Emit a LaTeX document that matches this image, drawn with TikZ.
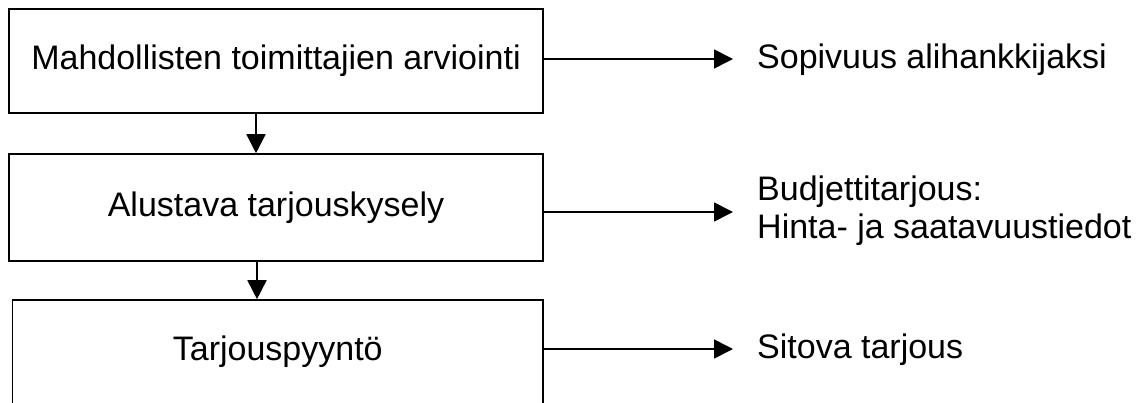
\documentclass[tikz,border=0pt]{standalone}
\usepackage{fontspec}
\setmainfont{Liberation Sans}
\usetikzlibrary{arrows.meta}

\begin{document}
\begin{tikzpicture}[x=1pt, y=-1pt,
  box/.style={draw, line width=1.6pt, minimum width=534pt, minimum height=104pt,
    inner sep=0pt, font=\fontsize{34}{38}\selectfont},
  lbl/.style={anchor=west, inner sep=0pt, inner xsep=24pt, align=left,
    font=\fontsize{34}{38}\selectfont},
  arr/.style={line width=1.6pt, -{Triangle[length=19pt, width=19pt]}}]

  \useasboundingbox (0,0) rectangle (1146,403);

  % Three stages, one under the other
  \node[box] (b1) at (276,61) {Mahdollisten toimittajien arviointi};
  \node[box, minimum height=107pt] (b2) at (276,207.5) {Alustava tarjouskysely};
  \node[box, minimum width=530.5pt] (b3) at (277.75,352) {Tarjouspyyntö};

  % What each stage gives
  \node[lbl] (s1) at (733,60) {Sopivuus alihankkijaksi};
  \node[lbl] (s2) at (733,211) {Budjettitarjous:\\Hinta- ja saatavuustiedot};
  \node[lbl] (s3) at (733,350) {Sitova tarjous};

  % Arrows down between the stages
  \draw[arr] ([xshift=-20pt]b1.south) -- ([xshift=-20pt]b1.south |- b2.north);
  \draw[arr] ([xshift=-19pt]b2.south) -- ([xshift=-19pt]b2.south |- b3.north);

  % Arrows out to the results
  \draw[arr] (b1.east |- 0,59) -- (s1.west |- 0,59);
  \draw[arr] (b2.east |- 0,212) -- (s2.west |- 0,212);
  \draw[arr] (b3.east |- 0,349) -- (s3.west |- 0,349);
\end{tikzpicture}
\end{document}
